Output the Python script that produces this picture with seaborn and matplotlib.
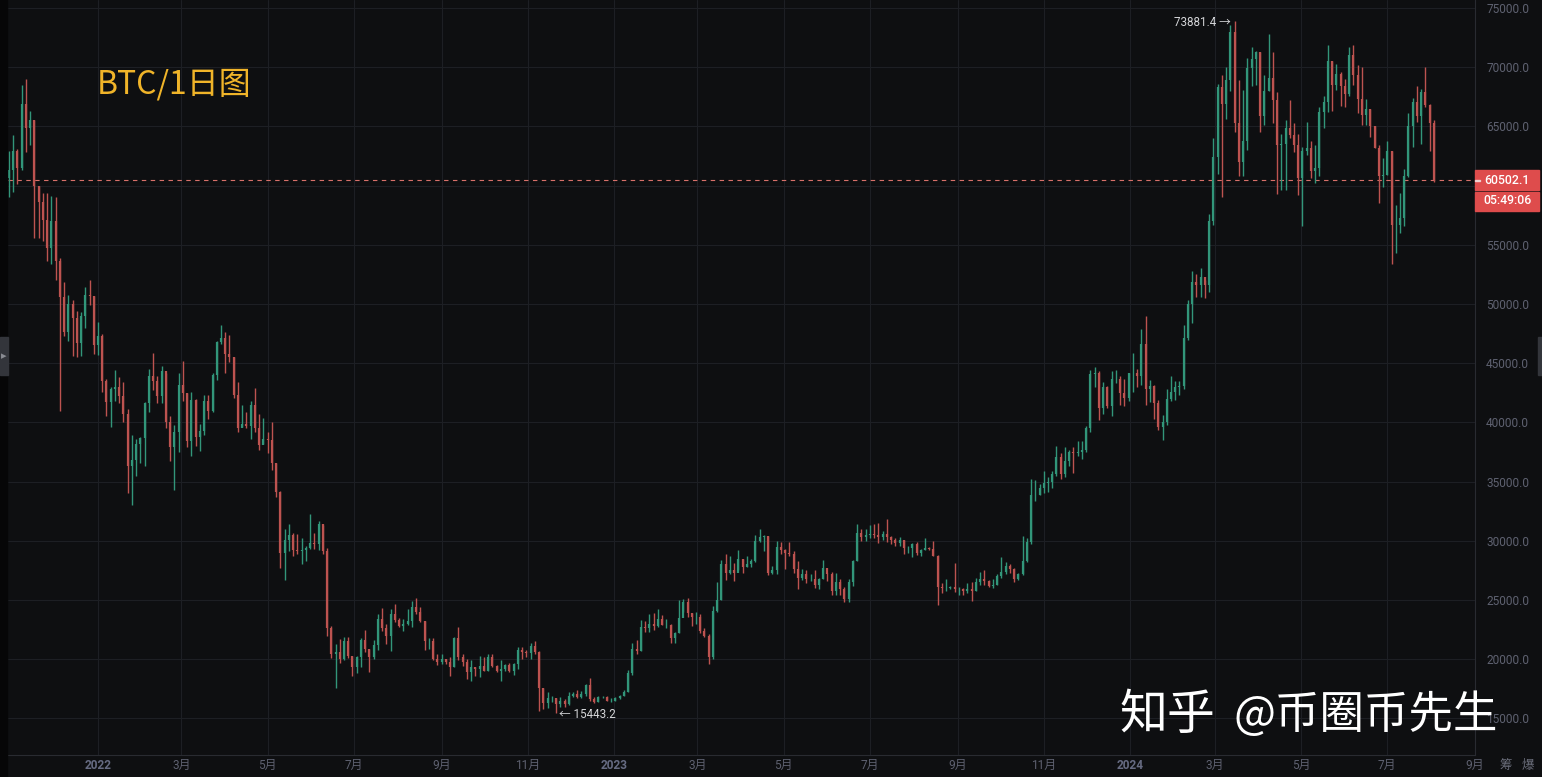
import numpy as np
import pandas as pd
import matplotlib
matplotlib.use("Agg")
import matplotlib.pyplot as plt
from matplotlib.patches import Rectangle
import seaborn as sns

first_open = 60.6
closes = [
61.3,62.9,61.5,66.9,64.9,65.5,60.0,58.6,57.1,54.7,
57.0,53.6,50.6,47.6,50.0,48.8,46.7,49.0,50.8,50.7,
46.5,47.3,43.5,41.7,42.8,43.0,42.2,40.7,36.3,36.8,
38.2,38.7,41.6,43.9,43.5,42.2,44.3,40.0,37.9,39.2,
43.2,42.5,38.4,41.9,38.8,39.3,41.8,41.0,44.0,46.8,
47.1,45.8,45.5,42.3,39.5,39.9,39.7,41.5,39.5,38.1,
38.6,38.5,36.6,34.1,29.0,30.1,30.5,29.2,29.1,29.2,
29.4,29.8,29.7,31.4,29.1,22.6,20.4,20.6,20.0,21.5,
20.3,19.3,20.2,21.6,20.9,20.2,21.2,23.4,22.6,22.0,
23.8,23.3,22.8,23.0,23.2,24.4,24.0,23.2,21.5,21.5,
20.0,19.8,20.0,19.8,19.3,21.8,20.2,19.8,18.9,19.3,
19.2,19.4,19.0,20.2,19.4,19.0,19.2,19.5,19.0,19.6,
20.8,20.6,20.5,21.1,20.6,17.6,16.3,16.7,16.7,16.2,
16.5,16.2,16.9,17.1,16.8,17.1,17.8,16.6,16.4,16.8,
16.8,16.5,16.5,16.7,16.9,17.2,18.8,20.9,20.7,22.7,
22.6,23.0,22.8,23.4,22.9,22.9,21.8,22.2,23.5,24.8,
23.9,23.6,23.6,22.4,22.0,20.2,24.1,25.0,28.0,27.3,
27.5,27.3,28.5,27.8,28.0,28.3,30.0,30.3,30.4,27.3,
27.5,29.5,29.2,29.0,28.9,27.6,26.9,27.2,26.8,26.8,
26.3,26.8,27.7,27.2,25.8,26.5,25.9,25.1,26.5,28.3,
30.7,30.3,30.5,30.6,30.5,30.3,30.6,30.3,30.1,29.8,
30.1,29.4,29.4,29.7,29.0,29.2,29.4,29.3,28.7,26.1,
26.0,26.0,26.1,25.9,25.9,25.8,25.9,25.8,26.5,26.8,
26.6,26.2,26.3,27.0,27.4,27.9,27.6,26.8,27.2,28.3,
29.9,33.9,33.9,34.5,34.9,35.0,35.6,37.1,35.6,36.7,
37.5,37.4,37.5,37.7,39.5,44.1,44.2,41.2,43.0,41.4,
43.7,43.7,42.5,42.1,44.2,44.2,43.9,46.6,42.8,43.1,
41.6,39.6,40.0,42.0,42.6,43.0,43.1,47.1,50.0,51.9,
51.6,52.3,51.6,57.0,62.4,68.3,66.9,68.9,73.0,65.3,
62.0,63.8,69.9,70.7,71.3,65.9,68.0,69.1,67.2,63.4,
63.5,64.9,64.3,63.4,60.6,62.9,63.2,61.2,61.5,66.2,
67.1,70.5,68.5,69.4,68.4,67.7,71.0,69.3,67.3,66.0,
66.5,65.0,63.2,60.8,60.9,62.9,56.7,56.7,57.3,60.8,
65.0,67.1,65.9,67.9,66.8,65.3,60.5,
]
highs = [
62.9,64.3,63.1,68.5,69.0,66.3,65.5,60.0,59.4,59.4,
59.1,59.0,53.9,51.9,50.8,50.3,49.4,49.3,51.4,52.0,
50.7,48.5,47.5,43.7,43.0,44.4,43.8,43.4,41.1,38.9,
38.6,38.8,41.7,44.5,45.9,43.9,44.8,44.2,40.5,39.8,
44.2,45.2,42.5,42.6,42.0,39.9,42.3,42.3,44.2,46.9,
48.2,47.6,47.4,45.5,43.4,41.5,40.9,41.8,42.9,40.7,
40.4,39.2,40.0,36.6,34.2,31.0,31.4,30.7,30.6,30.2,
29.6,32.3,30.7,31.7,31.3,29.4,22.8,21.3,21.7,21.9,
21.9,20.3,20.3,21.8,22.5,20.9,21.6,23.8,24.3,23.0,
24.2,24.7,23.5,23.4,24.2,24.9,25.2,24.4,23.2,21.8,
21.8,20.4,20.4,20.0,20.2,21.9,22.7,20.4,20.0,19.9,
19.3,20.3,20.2,20.4,20.4,19.5,19.9,19.6,19.7,19.7,
21.0,21.0,20.8,21.4,21.5,20.7,17.6,17.2,16.9,16.7,
16.8,16.6,17.2,17.2,17.4,17.3,17.9,18.4,16.8,16.9,
16.9,16.9,16.7,16.8,17.0,17.4,19.1,21.4,21.6,23.3,
23.2,23.8,23.9,24.2,23.7,23.4,23.0,22.3,25.0,25.1,
25.2,23.9,24.0,23.8,22.6,22.1,24.5,26.5,28.4,28.9,
28.7,28.1,29.2,28.5,28.7,28.5,30.5,31.0,30.5,30.4,
27.9,30.0,29.9,29.3,29.9,29.1,28.3,27.6,27.5,27.2,
27.5,26.9,28.4,27.3,27.4,27.3,26.8,26.1,26.8,28.4,
31.4,31.0,31.0,31.3,31.4,31.5,30.8,31.8,30.4,30.2,
30.3,30.1,29.6,29.8,29.9,29.3,30.2,29.5,30.0,28.8,
26.4,26.8,26.2,28.1,26.1,26.0,26.4,26.5,26.9,27.4,
27.5,26.7,26.8,27.2,28.6,28.2,28.0,27.7,27.3,30.4,
30.2,35.2,35.1,34.8,35.9,35.4,35.9,38.0,37.4,37.9,
37.7,37.9,38.4,38.4,39.7,44.4,44.7,44.3,43.4,43.1,
44.3,44.4,43.9,43.7,44.2,45.9,44.5,47.9,49.0,43.6,
43.2,41.9,40.6,42.8,43.9,43.5,43.5,48.2,50.3,52.8,
52.5,53.0,52.0,57.6,64.0,68.6,69.3,70.0,73.6,73.88,
68.9,68.1,70.8,71.7,71.4,71.3,69.3,72.8,71.3,67.9,
64.4,65.5,67.2,65.3,64.4,63.3,65.4,63.8,63.4,66.6,
67.6,71.9,70.5,70.3,69.6,69.0,71.7,71.9,70.2,70.0,
67.3,66.5,65.0,63.4,62.3,63.8,62.9,58.4,59.4,61.4,
66.1,67.4,68.4,68.2,70.0,66.9,65.5,
]
lows = [
59.0,59.5,60.1,61.3,62.8,63.4,55.6,55.6,55.3,53.6,
53.4,52.0,41.0,47.3,46.9,45.6,45.5,45.6,48.0,49.9,
45.8,45.7,42.6,40.5,39.6,41.8,41.6,40.0,34.0,33.0,
35.5,36.6,36.3,40.9,42.7,41.6,41.6,39.5,36.7,34.3,
37.5,41.8,37.9,37.2,38.0,37.6,38.9,40.3,40.9,43.6,
46.6,44.2,45.1,42.1,39.2,39.6,39.5,38.6,39.2,37.7,
38.2,37.4,36.0,33.7,27.7,26.7,29.1,28.7,28.9,28.0,
28.3,29.3,29.3,29.2,28.9,22.0,20.1,17.6,19.7,19.9,
20.1,18.6,18.8,19.3,20.6,18.9,20.0,20.8,22.4,21.3,
20.7,23.1,22.7,22.4,22.9,22.7,23.8,23.1,20.8,20.9,
19.9,19.5,19.6,19.6,18.6,19.3,19.9,19.4,18.3,18.2,
18.6,18.5,19.0,19.0,19.3,18.9,18.2,19.0,18.9,18.7,
19.2,20.0,20.2,20.0,20.4,15.6,15.8,15.9,16.4,15.44,
16.0,16.0,16.1,16.8,16.7,16.7,16.9,16.5,16.3,16.4,
16.7,16.5,16.4,16.5,16.6,16.9,17.2,18.7,20.4,20.7,
22.3,22.3,22.5,22.7,22.9,22.6,21.4,21.4,22.2,24.0,
23.6,22.8,23.0,22.2,21.9,19.6,20.0,24.0,25.0,26.7,
27.2,26.6,27.5,27.3,27.8,27.8,28.2,29.9,29.1,27.1,
27.2,27.2,28.9,27.6,28.7,27.3,25.9,26.7,26.4,26.6,
26.0,25.9,26.8,26.6,25.4,25.4,25.4,24.8,24.8,26.2,
28.3,30.0,30.0,30.2,30.2,29.8,30.1,29.9,29.7,29.6,
29.6,28.9,29.0,28.6,28.8,28.7,29.2,29.2,28.7,24.6,
25.6,25.8,25.9,25.7,25.4,25.4,25.6,24.9,25.8,26.3,
26.3,26.1,26.0,26.3,26.9,27.2,27.3,26.5,26.7,27.1,
28.2,29.7,33.4,33.9,34.0,34.1,34.5,35.5,35.2,35.4,
36.3,35.7,37.2,36.9,37.5,39.2,43.0,40.2,40.7,41.2,
40.5,43.3,41.5,41.4,41.8,42.6,43.0,43.2,41.5,41.7,
40.3,39.4,38.5,39.8,41.8,41.9,42.3,42.8,47.0,48.4,
50.6,50.6,50.5,51.0,56.7,61.0,59.0,65.6,68.0,64.5,
60.8,60.8,63.0,68.4,68.5,64.5,65.1,68.0,65.3,59.3,
59.6,59.6,64.0,62.8,59.2,56.6,62.6,60.6,60.2,60.8,
64.9,66.2,66.3,68.1,66.7,66.6,67.6,68.5,66.1,65.1,
65.1,64.1,63.2,58.5,59.9,60.9,53.4,54.3,56.0,56.6,
60.7,63.3,65.4,63.5,66.6,62.9,60.3,
]
price_ticks = [15000,20000,25000,30000,35000,40000,45000,50000,55000,60000,65000,70000,75000]
hidden_price_tick = 60000  # covered by the price tag in the reference
date_ticks = ["2022-01-01","2022-03-01","2022-05-01","2022-07-01","2022-09-01","2022-11-01",
              "2023-01-01","2023-03-01","2023-05-01","2023-07-01","2023-09-01","2023-11-01",
              "2024-01-01","2024-03-01","2024-05-01","2024-07-01","2024-09-01"]
date_labels = ["2022","3月","5月","7月","9月","11月","2023","3月","5月","7月","9月","11月","2024","3月","5月","7月","9月"]
last_price = 60502.1
high_price = 73881.4
low_price = 15443.2

BG = "#0e0f11"
sns.set_theme(style="dark")
plt.rcParams["font.family"] = ["Roboto", "Noto Sans CJK SC", "DejaVu Sans"]

n = min(len(closes), len(highs), len(lows))
dates = pd.date_range("2021-10-30", periods=n, freq="3D")
c = np.array(closes[:n]) * 1000
h = np.array(highs[:n]) * 1000
l = np.array(lows[:n]) * 1000
o = np.r_[first_open * 1000, c[:-1]]
direction = np.where(c >= o, "up", "down")

candle = np.arange(n)
wicks = pd.concat([pd.DataFrame({"date": dates, "price": l, "candle": candle, "dir": direction}),
                   pd.DataFrame({"date": dates, "price": h, "candle": candle, "dir": direction})])
bodies = pd.concat([pd.DataFrame({"date": dates, "price": o, "candle": candle, "dir": direction}),
                    pd.DataFrame({"date": dates, "price": c, "candle": candle, "dir": direction})])

W, H = 1542, 777
fig = plt.figure(figsize=(W / 100, H / 100), dpi=100, facecolor=BG)
L, R, T, B = 8, 1475, 0, 755
ax = fig.add_axes([L / W, 1 - B / H, (R - L) / W, (B - T) / H], facecolor=BG)

palette = {"up": "#32967a", "down": "#bd5350"}
sns.lineplot(data=wicks, x="date", y="price", hue="dir", units="candle", estimator=None, sort=False,
             palette=palette, lw=1.0, solid_capstyle="butt", legend=False, ax=ax, zorder=3)
sns.lineplot(data=bodies, x="date", y="price", hue="dir", units="candle", estimator=None, sort=False,
             palette=palette, lw=1.6, solid_capstyle="butt", legend=False, ax=ax, zorder=3)

d0 = pd.Timestamp("2022-01-01")
px = 1.4137
ax.set_xlim(d0 + pd.Timedelta(days=(L - 98) / px), d0 + pd.Timedelta(days=(R - 98) / px))
per = 59.2 / 5000
ax.set_ylim(75000 - (B - 8) / per, 75000 + 8 / per)

ax.set_xticks(pd.to_datetime(date_ticks))
ax.set_xticklabels(date_labels)
ax.set_yticks(price_ticks)
ax.set_yticklabels(["" if p == hidden_price_tick else f"{p:.1f}" for p in price_ticks])
ax.yaxis.tick_right()
ax.grid(True, color="#1d1f24", lw=0.8)
ax.set_axisbelow(True)
ax.set_xlabel("")
ax.set_ylabel("")
ax.tick_params(axis="y", length=0, pad=8, labelsize=8.6, labelcolor="#5e6170")
ax.tick_params(axis="x", length=0, pad=3, labelsize=8.6, labelcolor="#5e6170")
for lab, txt in zip(ax.get_xticklabels(), date_labels):
    if txt.startswith("20"):
        lab.set_fontweight("bold")
        lab.set_color("#666b82")
for s in ("top", "left"):
    ax.spines[s].set_visible(False)
for s in ("right", "bottom"):
    ax.spines[s].set_color("#292b31")
    ax.spines[s].set_linewidth(0.8)

ax.axhline(last_price, color="#d8706a", lw=0.8, dashes=(4, 4), zorder=2)

def fx(x):
    return x / W
def fy(y):
    return 1 - y / H

# panel chrome
fig.patches.append(Rectangle((0, 0), fx(7), 1, transform=fig.transFigure, color="#060607", zorder=0))
fig.patches.append(Rectangle((0, fy(375)), fx(8), 38 / H, transform=fig.transFigure, color="#33353b", zorder=5))
fig.patches.append(Rectangle((fx(1538), fy(375)), fx(4), 38 / H, transform=fig.transFigure, color="#33353b", zorder=5))
fig.text(fx(4), fy(356), "▸", color="#8a8c93", fontsize=8, ha="center", va="center", zorder=6)
fig.patches.append(Rectangle((fx(1475), fy(190)), fx(64), 20 / H, transform=fig.transFigure, color="#de4c4c", zorder=5))
fig.patches.append(Rectangle((fx(1475), fy(211)), fx(64), 19.5 / H, transform=fig.transFigure, color="#de4c4c", zorder=5))
fig.patches.append(Rectangle((fx(1475), fy(180.8)), fx(5), 1 / H, transform=fig.transFigure, color="#f0d0d0", zorder=6))
fig.text(fx(1507), fy(180), f"{last_price:.1f}", color="#ffffff", fontsize=8.8, fontweight="medium", ha="center", va="center", zorder=7)
fig.text(fx(1507), fy(201), "05:49:06", color="#ffffff", fontsize=8.8, fontweight="medium", ha="center", va="center", zorder=7)

# annotations
fig.text(fx(1174), fy(22), f"{high_price:.1f} →", color="#d6d7da", fontsize=8.4, ha="left", va="center", zorder=7)
fig.text(fx(559), fy(714), f"← {low_price:.1f}", color="#d6d7da", fontsize=8.4, ha="left", va="center", zorder=7)
fig.text(fx(1500), fy(765), "筹", color="#6a6d7a", fontsize=9, ha="left", va="center", zorder=7)
fig.text(fx(1522), fy(765), "爆", color="#6a6d7a", fontsize=9, ha="left", va="center", zorder=7)

# titles
fig.text(fx(97), fy(85), "BTC/1日图", color="#f0b429", fontsize=23, ha="left", va="center",
         family=["Noto Sans CJK SC", "DejaVu Sans"], zorder=8)
fig.text(fx(1119), fy(715), "知乎", color="#ffffff", fontsize=34.5, ha="left", va="center",
         family=["Noto Sans CJK SC", "DejaVu Sans"], zorder=8)
fig.text(fx(1233), fy(715), "@币圈币先生", color="#ffffff", fontsize=32, ha="left", va="center",
         family=["Noto Sans CJK SC", "DejaVu Sans"], zorder=8)

fig.savefig("out.png", dpi=100, facecolor=BG)
